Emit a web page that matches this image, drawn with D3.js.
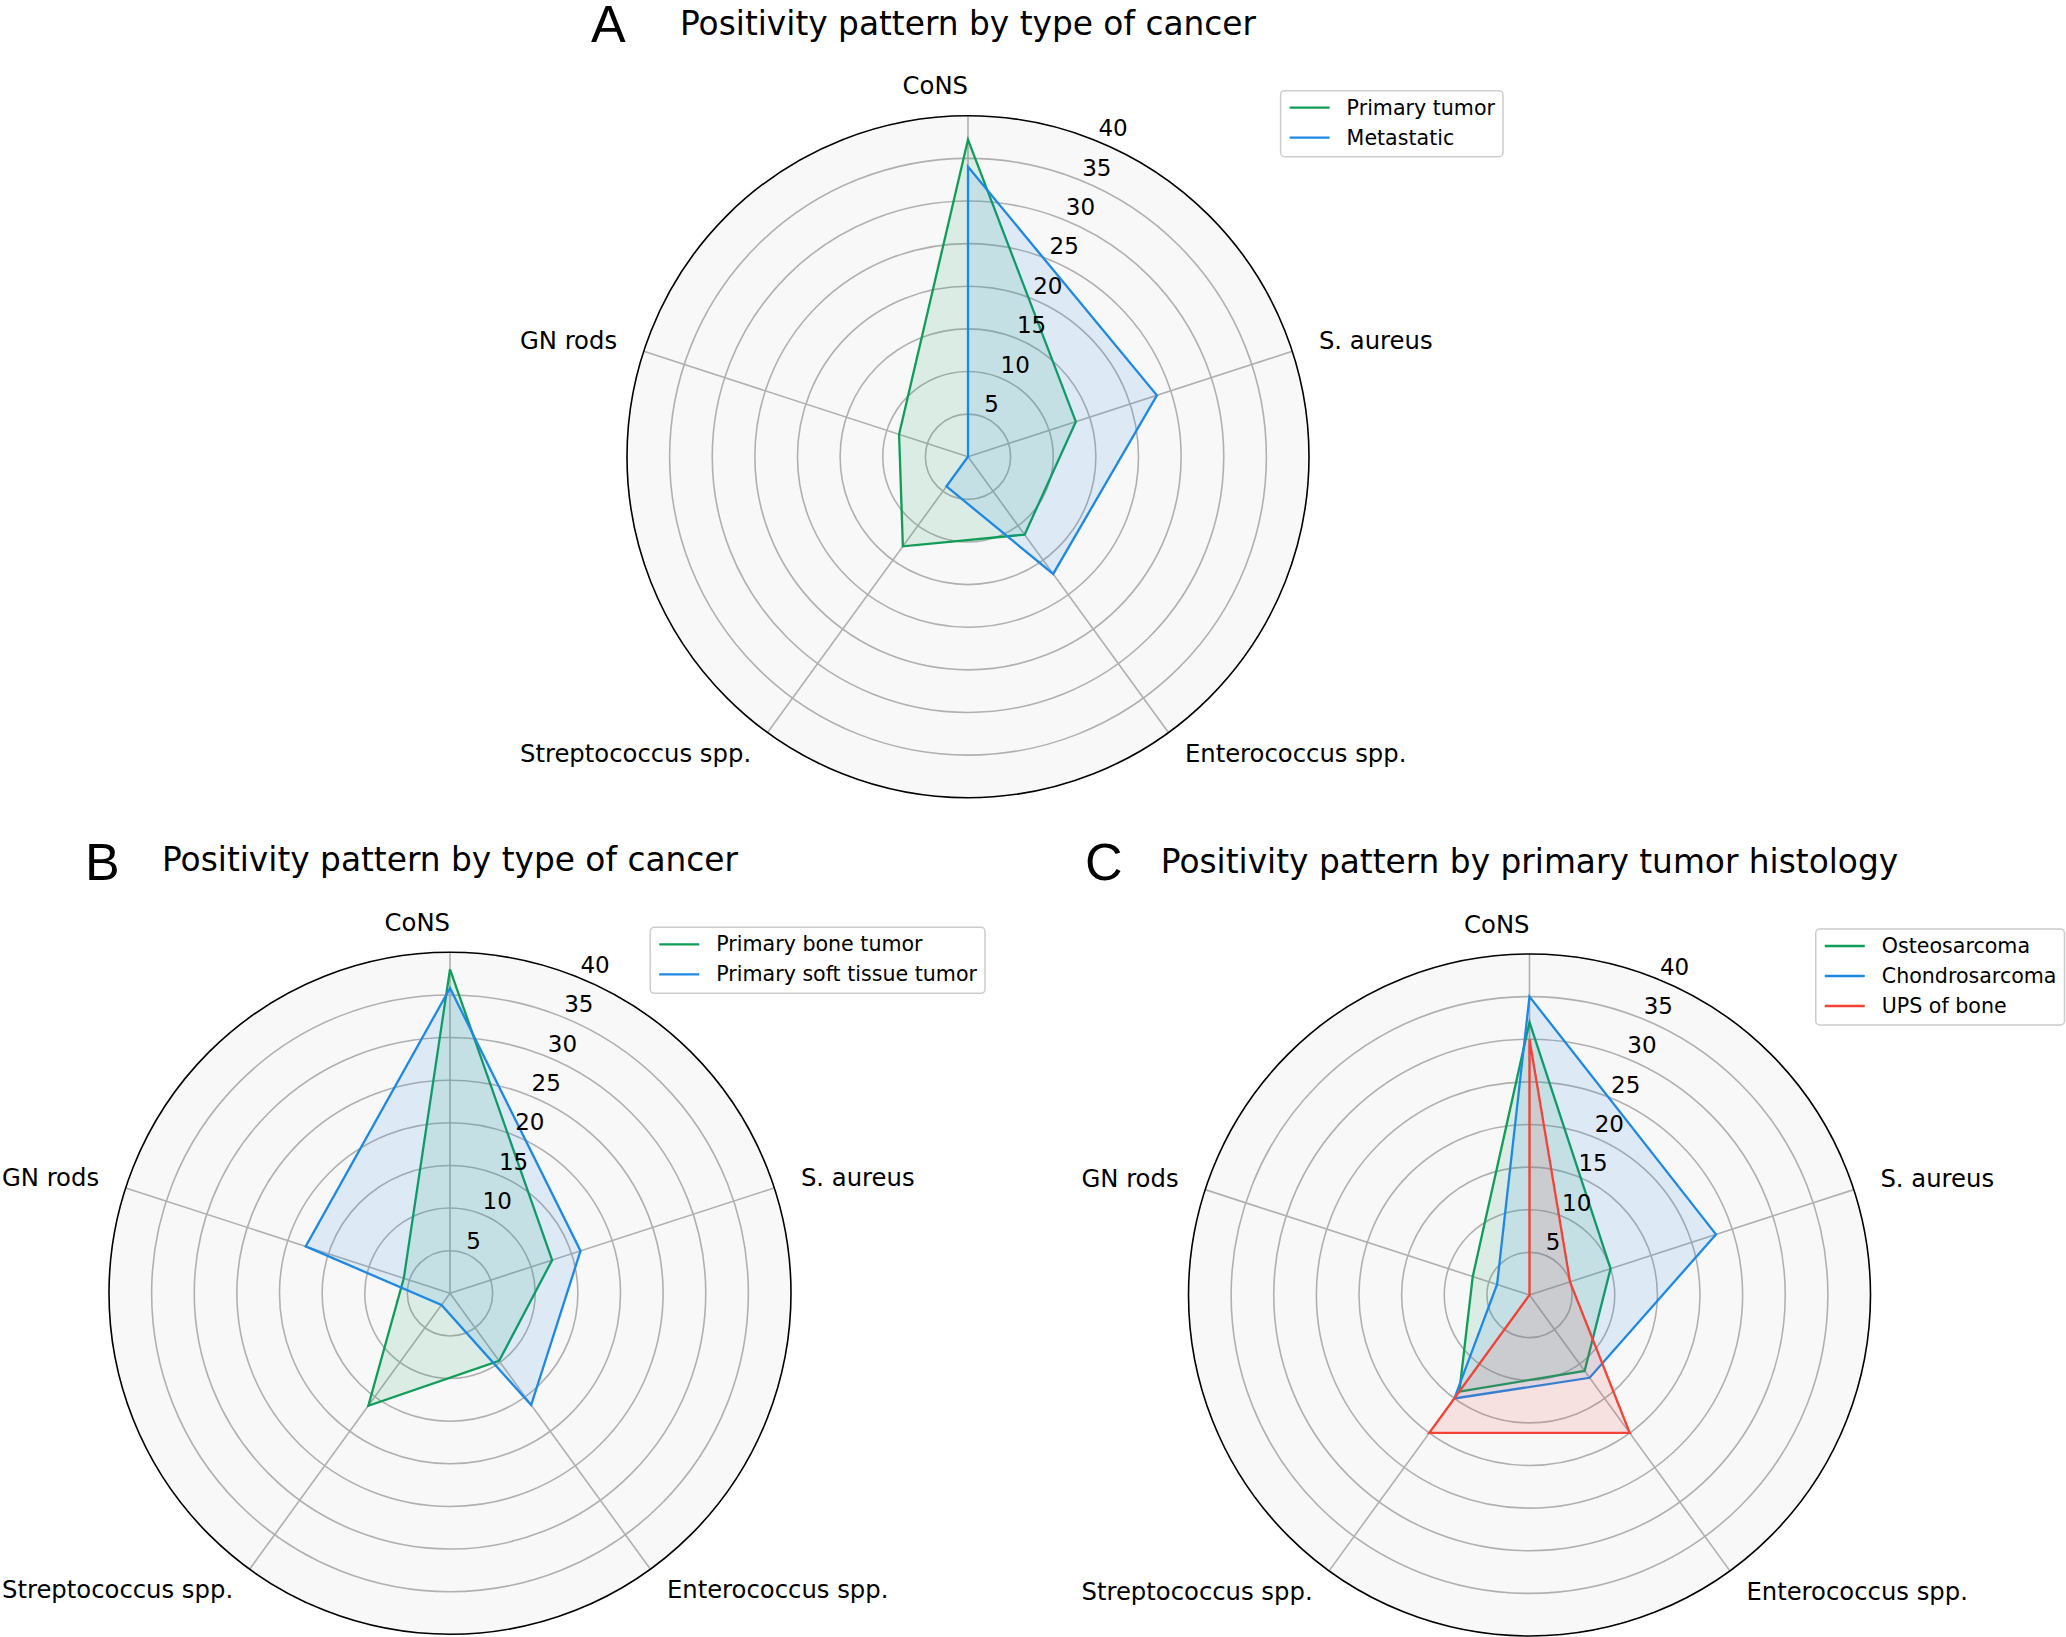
<!DOCTYPE html>
<html>
<head>
<meta charset="utf-8">
<script src="https://cdn.jsdelivr.net/npm/d3@7"></script>
<style>
  body { margin: 0; background: #ffffff; }
  svg { display: block; }
</style>
</head>
<body>
<svg id="chart" width="2066" height="1637"></svg>
<script>
// ---------------- data ----------------
const categories = ["CoNS", "S. aureus", "Enterococcus spp.", "Streptococcus spp.", "GN rods"];
const radialTicks = [5, 10, 15, 20, 25, 30, 35, 40];
const radialMax = 40;

const panelLetters = ["A", "B", "C"];
const panelTitles = [
  "Positivity pattern by type of cancer",
  "Positivity pattern by type of cancer",
  "Positivity pattern by primary tumor histology"
];

// Panel A
const seriesNamesA = ["Primary tumor", "Metastatic"];
const primaryTumor = [37.2, 13.3, 11.3, 13.0, 8.5];
const metastatic   = [34.0, 23.3, 17.0, 4.3, 0];

// Panel B
const seriesNamesB = ["Primary bone tumor", "Primary soft tissue tumor"];
const primaryBoneTumor       = [38.0, 12.6, 9.8, 16.3, 5.7];
const primarySoftTissueTumor = [35.8, 16.1, 16.2, 1.7, 17.8];

// Panel C
const seriesNamesC = ["Osteosarcoma", "Chondrosarcoma", "UPS of bone"];
const osteosarcoma   = [32.0, 10.0, 11.0, 14.0, 7.0];
const chondrosarcoma = [35.0, 23.0, 12.0, 15.0, 4.0];
const upsOfBone      = [30.0, 5.0, 20.0, 20.0, 0];

const seriesColors = ["#0F9D58", "#1E88E5", "#F44336"];

// ---------------- layout ----------------
const panels = [
  { cx: 968,  cy: 456.7, letterX: 591,  names: seriesNamesA, values: [primaryTumor, metastatic] },
  { cx: 450,  cy: 1293.3, letterX: 85,  names: seriesNamesB, values: [primaryBoneTumor, primarySoftTissueTumor] },
  { cx: 1529.5, cy: 1295, letterX: 1085, names: seriesNamesC, values: [osteosarcoma, chondrosarcoma, upsOfBone] }
];

const R = 341;
const FONT = "DejaVu Sans, sans-serif";
const svg = d3.select("#chart");

const rScale = d3.scaleLinear().domain([0, radialMax]).range([0, R]);
const angle = d3.scalePoint()
  .domain(categories)
  .range([0, 2 * Math.PI * (categories.length - 1) / categories.length]);

const radar = d3.lineRadial()
  .angle((d, i) => angle(categories[i]))
  .radius(d => rScale(d))
  .curve(d3.curveLinearClosed);

function polar(a, r) { return [r * Math.sin(a), -r * Math.cos(a)]; }

panels.forEach((p, pi) => {
  const g = svg.append("g").attr("transform", `translate(${p.cx},${p.cy})`);

  // background
  g.append("circle").attr("r", R).attr("fill", "#f8f8f8");

  // grid circles
  g.selectAll("circle.grid")
    .data(radialTicks.filter(t => t < radialMax))
    .join("circle")
    .attr("class", "grid")
    .attr("r", d => rScale(d))
    .attr("fill", "none")
    .attr("stroke", "#b0b0b0")
    .attr("stroke-width", 1.6);

  // spokes
  g.selectAll("line.spoke")
    .data(categories)
    .join("line")
    .attr("class", "spoke")
    .attr("x1", 0).attr("y1", 0)
    .attr("x2", d => polar(angle(d), R)[0])
    .attr("y2", d => polar(angle(d), R)[1])
    .attr("stroke", "#b0b0b0")
    .attr("stroke-width", 1.6);

  // series
  p.values.forEach((vals, si) => {
    const col = seriesColors[si];
    g.append("path")
      .attr("d", radar(vals))
      .attr("fill", col)
      .attr("fill-opacity", 0.12)
      .attr("stroke", "none");
    g.append("path")
      .attr("d", radar(vals))
      .attr("fill", "none")
      .attr("stroke", col)
      .attr("stroke-width", 2.3)
      .attr("stroke-linejoin", "miter");
  });

  // outer spine
  g.append("circle").attr("r", R).attr("fill", "none")
    .attr("stroke", "#000").attr("stroke-width", 1.6);

  // radial tick labels (at 22.5°)
  const tickAngle = Math.PI / 8;
  g.selectAll("text.rtick")
    .data(radialTicks)
    .join("text")
    .attr("class", "rtick")
    .attr("x", d => polar(tickAngle, rScale(d))[0])
    .attr("y", d => polar(tickAngle, rScale(d))[1] - 5.4)
    .attr("text-anchor", "start")
    .attr("font-family", FONT)
    .attr("font-size", 23)
    .attr("fill", "#000")
    .text(d => d);

  // category labels
  const labR = 369;
  g.selectAll("text.cat")
    .data(categories)
    .join("text")
    .attr("class", "cat")
    .attr("x", d => polar(angle(d), labR)[0])
    .attr("y", d => polar(angle(d), labR)[1] + 6.5)
    .attr("text-anchor", d => {
      const a = angle(d);
      return (a > 0 && a < Math.PI) ? "start" : "end";
    })
    .attr("font-family", FONT)
    .attr("font-size", 24.3)
    .attr("fill", "#000")
    .text(d => d);

  // title
  g.append("text")
    .attr("x", 0).attr("y", -422)
    .attr("text-anchor", "middle")
    .attr("font-family", FONT)
    .attr("font-size", 32.8)
    .attr("fill", "#000")
    .text(panelTitles[pi]);

  // panel letter
  svg.append("text")
    .attr("x", p.letterX).attr("y", pi === 0 ? 42 : 880)
    .attr("font-family", "Liberation Sans, Arial, sans-serif")
    .attr("font-size", 52)
    .attr("fill", "#000")
    .text(panelLetters[pi]);

  // legend
  const leg = g.append("g");
  const box = leg.append("rect");
  const items = leg.selectAll("g.item")
    .data(p.names)
    .join("g")
    .attr("class", "item")
    .attr("transform", (d, i) => `translate(0,${17 + i * 30})`);
  items.append("line")
    .attr("x1", 9).attr("x2", 49)
    .attr("y1", 0).attr("y2", 0)
    .attr("stroke", (d, i) => seriesColors[i])
    .attr("stroke-width", 2.3);
  const texts = items.append("text")
    .attr("x", 66).attr("y", 7)
    .attr("font-family", FONT)
    .attr("font-size", 20.6)
    .attr("fill", "#000")
    .text(d => d);
  let maxW = 0;
  texts.each(function () { maxW = Math.max(maxW, this.getComputedTextLength()); });
  const w = 66 + maxW + 8;
  const h = 6 + p.names.length * 30;
  box.attr("x", 0).attr("y", 0).attr("width", w).attr("height", h)
    .attr("rx", 4).attr("ry", 4)
    .attr("fill", "#ffffff").attr("fill-opacity", 0.8)
    .attr("stroke", "#cccccc").attr("stroke-width", 1.5);
  leg.attr("transform", `translate(${535 - w},${-366})`);
});
</script>
</body>
</html>
